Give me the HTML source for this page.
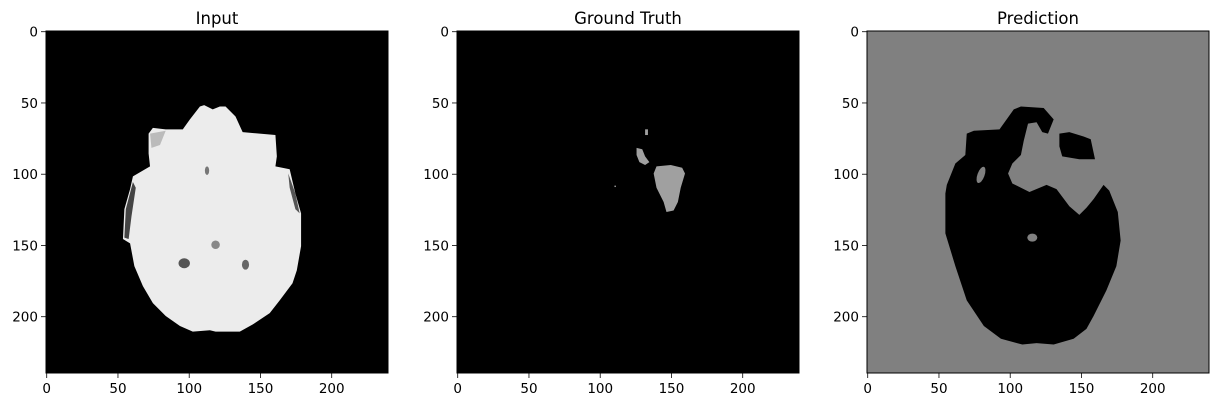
<!DOCTYPE html>
<html><head><meta charset="utf-8"><style>
html,body{margin:0;padding:0;background:#fff;}
svg{display:block;font-family:"DejaVu Sans","Liberation Sans",sans-serif;}
</style></head><body>
<svg id="fig" width="1222" height="407" viewBox="0 0 1222 407" xmlns="http://www.w3.org/2000/svg"></svg>
<script>
const ticks = [0, 50, 100, 150, 200];
const titles = ["Input", "Ground Truth", "Prediction"];
const panelLeft = [46, 457, 867];
const brainOutline = [[111,52],[117,55],[122,53],[126,53],[133,60],[138,71],[161,73],[162,88],[161,95],[171,97],[175,114],[179,128],[179,151],[176,168],[173,177],[164,189],[157,198],[145,206],[136,211],[119,211],[115,210],[103,211],[94,207],[84,200],[75,191],[68,179],[62,165],[59,149],[54,146],[55,125],[59,111],[61,102],[73,95],[72,86],[72,72],[75,68],[84,69],[96,69],[101,62],[108,53]];
const gtMain = [[140,95],[150,94],[158,96],[160,100],[157,110],[155,120],[152,126],[147,127],[145,120],[140,110],[138,100]];
const gtSmall = [[126,82],[130,83],[132,88],[135,92],[132,94],[128,92],[126,87]];
const gtTiny = [[132,69],[134,69],[134,73],[132,73]];
const predMain = [[108,53],[124,54],[131,62],[127,72],[123,71],[119,64],[113,65],[110,77],[108,87],[102,93],[99,100],[102,107],[114,113],[126,108],[133,111],[142,123],[149,129],[154,124],[159,118],[166,108],[170,112],[176,127],[178,147],[175,165],[168,182],[159,200],[154,209],[145,216],[131,220],[119,219],[109,220],[94,216],[82,207],[70,189],[62,165],[55,142],[55,114],[56,108],[62,93],[69,87],[70,72],[75,70],[93,69],[98,62],[103,55]];
const predBlob = [[135,72],[142,71],[152,74],[157,76],[160,90],[149,90],[137,88],[135,81]];

const NS = "http://www.w3.org/2000/svg";
const svg = document.getElementById('fig');
const TOP = 31, SIZE = 342, N = 240;
function mk(tag, attrs, parent){const e=document.createElementNS(NS,tag);for(const k in attrs)e.setAttribute(k,attrs[k]);(parent||svg).appendChild(e);return e;}
function pts(arr){return arr.map(p=>p[0]+","+p[1]).join(" ");}

panelLeft.forEach((L,i)=>{
  const g = mk('g',{});
  
  
  const img = mk('g',{transform:`translate(${L},${TOP}) scale(${SIZE/N})`},g);
  
  
  mk('rect',{x:0,y:0,width:N,height:N,fill: i==2?'#808080':'#000'},img);
  if(i==0){
    const b = mk('polygon',{points:pts(brainOutline),fill:'#ececec'},img);
    
    
    mk('polygon',{points:"56,125 61,106 63,110 60,130 58,146 55,145",fill:'#444'},img);
    mk('polygon',{points:"170,100 175,114 178,128 175,125 171,110",fill:'#555'},img);
    mk('polygon',{points:"73,72 84,70 80,80 74,82",fill:'#bbb'},img);
    mk('ellipse',{cx:97,cy:163,rx:4,ry:3.5,fill:'#555'},img);
    mk('ellipse',{cx:140,cy:164,rx:2.5,ry:3.5,fill:'#666'},img);
    mk('ellipse',{cx:119,cy:150,rx:3,ry:3,fill:'#888'},img);
    mk('ellipse',{cx:113,cy:98,rx:1.5,ry:3,fill:'#777'},img);
  } else if(i==1){
    [gtMain,gtSmall,gtTiny].forEach((a,k)=>{
      const p=mk('polygon',{points:pts(a),fill:'#a0a0a0'},img);
      
      
    });
    mk('rect',{x:110.5,y:108.5,width:1,height:1,fill:'#a0a0a0'},img);
  } else {
    const p=mk('polygon',{points:pts(predMain),fill:'#000'},img);
    
    
    const q=mk('polygon',{points:pts(predBlob),fill:'#000'},img);
    
    
    mk('ellipse',{cx:80,cy:101,rx:2.5,ry:6,fill:'#808080',transform:'rotate(20 80 101)'},img);
    mk('ellipse',{cx:116,cy:145,rx:3.5,ry:2.8,fill:'#808080'},img);
  }
  mk('rect',{x:L,y:TOP,width:SIZE,height:SIZE,fill:'none',stroke:'#000','stroke-width':1},g);
  const t = mk('text',{x:L+SIZE/2,y:24,'text-anchor':'middle','font-size':'16.5px',fill:'#000'},g);
  t.textContent = titles[i];
  
  
  const k = SIZE/N;
  ticks.forEach(v=>{
    const px = L + (v+0.5)*k;
    const py = TOP + (v+0.5)*k;
    mk('line',{x1:px,y1:TOP+SIZE,x2:px,y2:TOP+SIZE+5,stroke:'#000','stroke-width':0.8},g);
    const xt = mk('text',{x:px,y:TOP+SIZE+20,'text-anchor':'middle','font-size':'13.5px',fill:'#000'},g);
    xt.textContent = v;
    
    
    mk('line',{x1:L-5,y1:py,x2:L,y2:py,stroke:'#000','stroke-width':0.8},g);
    const yt = mk('text',{x:L-8,y:py+5,'text-anchor':'end','font-size':'13.5px',fill:'#000'},g);
    yt.textContent = v;
    
    
  });
});
</script>
</body></html>
